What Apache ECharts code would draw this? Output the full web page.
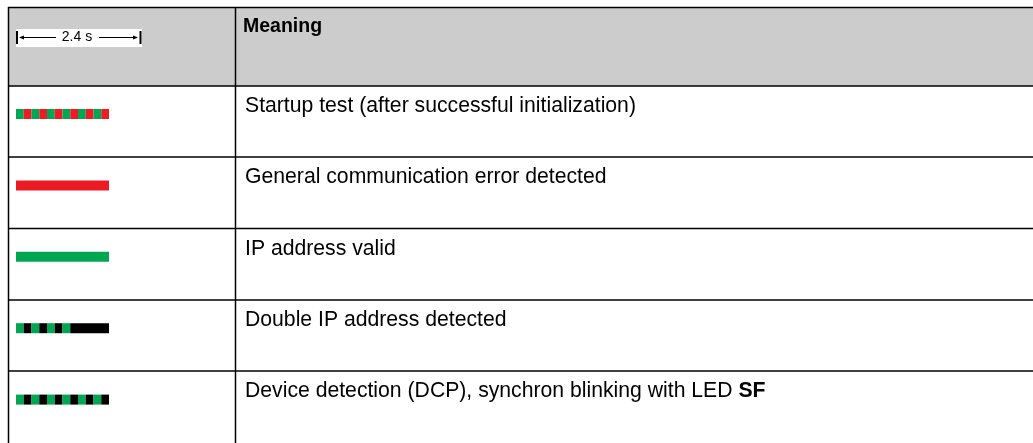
<!DOCTYPE html>
<html>
<head>
<meta charset="utf-8">
<script src="https://cdn.jsdelivr.net/npm/echarts@6/dist/echarts.min.js"></script>
<style>
html,body{margin:0;padding:0;background:#fff;}
#chart{width:1033px;height:443px;}
</style>
</head>
<body>
<div id="chart"></div>
<script>
// ---- data ----
const meanings = [
  'Startup test (after successful initialization)',
  'General communication error detected',
  'IP address valid',
  'Double IP address detected',
  'Device detection (DCP), synchron blinking with LED '
];
const boldSuffix = ['', '', '', '', 'SF'];
const headerMeaning = 'Meaning';
const periodLabel = '2.4 s';
const periodSeconds = 2.4;
const stepSeconds = 0.2;
// LED state per 0.2 s step: G = green, R = red, K = off (black)
const startupPattern   = ['G','R','G','R','G','R','G','R','G','R','G','R'];
const commErrorPattern = ['R','R','R','R','R','R','R','R','R','R','R','R'];
const ipValidPattern   = ['G','G','G','G','G','G','G','G','G','G','G','G'];
const doubleIpPattern  = ['G','K','G','K','G','K','G','K','K','K','K','K'];
const dcpPattern       = ['G','K','G','K','G','K','G','K','G','K','G','K'];
const patterns = [startupPattern, commErrorPattern, ipValidPattern, doubleIpPattern, dcpPattern];
const ledColors = { G: '#00A651', R: '#ED1C24', K: '#000000' };

// ---- build segment data (merge consecutive equal states into runs) ----
const segData = [];
patterns.forEach((p, row) => {
  let start = 0;
  for (let i = 1; i <= p.length; i++) {
    if (i === p.length || p[i] !== p[start]) {
      segData.push([row, start * stepSeconds, i * stepSeconds, p[start]]);
      start = i;
    }
  }
});
const textData = meanings.map((m, i) => [i]);

const chart = echarts.init(document.getElementById('chart'));
const LINE = '#000';
const LW = 1.5;
const rowLines = [86, 157, 228.5, 300, 371];
const FONT = '"Liberation Sans", Arial, sans-serif';

const graphics = [
  { type: 'rect', silent: true, shape: { x: 8, y: 7, width: 1030, height: 79 }, style: { fill: '#CCCCCC' }, z: 0 },
  { type: 'text', style: { x: 243, y: 26.5, text: headerMeaning, font: 'bold 19.5px ' + FONT, fill: '#000', textVerticalAlign: 'middle' }, z: 5 },
  // scale indicator
  { type: 'rect', shape: { x: 16, y: 29, width: 126, height: 18 }, style: { fill: '#fff' }, z: 3 },
  { type: 'line', shape: { x1: 17, y1: 31, x2: 17, y2: 44 }, style: { stroke: '#000', lineWidth: 2 }, z: 4 },
  { type: 'line', shape: { x1: 140.5, y1: 31, x2: 140.5, y2: 44 }, style: { stroke: '#000', lineWidth: 2 }, z: 4 },
  { type: 'line', shape: { x1: 20, y1: 37.5, x2: 56, y2: 37.5 }, style: { stroke: '#000', lineWidth: 1 }, z: 4 },
  { type: 'line', shape: { x1: 99, y1: 37.5, x2: 137, y2: 37.5 }, style: { stroke: '#000', lineWidth: 1 }, z: 4 },
  { type: 'polygon', shape: { points: [[19, 37.5], [24, 35.5], [24, 39.5]] }, style: { fill: '#000' }, z: 4 },
  { type: 'polygon', shape: { points: [[138, 37.5], [133, 35.5], [133, 39.5]] }, style: { fill: '#000' }, z: 4 },
  { type: 'text', style: { x: 77, y: 37, text: periodLabel, font: '14px ' + FONT, fill: '#000', textAlign: 'center', textVerticalAlign: 'middle' }, z: 4 },
  // frame
  { type: 'line', shape: { x1: 8, y1: 7.5, x2: 1033, y2: 7.5 }, style: { stroke: LINE, lineWidth: LW }, z: 6 },
  { type: 'line', shape: { x1: 8.5, y1: 7, x2: 8.5, y2: 443 }, style: { stroke: LINE, lineWidth: LW }, z: 6 },
  { type: 'line', shape: { x1: 235.5, y1: 7, x2: 235.5, y2: 443 }, style: { stroke: LINE, lineWidth: LW }, z: 6 }
];
rowLines.forEach(y => {
  graphics.push({ type: 'line', shape: { x1: 8, y1: y, x2: 1033, y2: y }, style: { stroke: LINE, lineWidth: LW }, z: 6 });
});

chart.setOption({
  animation: false,
  grid: { left: 16, right: 1033 - 109, top: 86, bottom: 0, containLabel: false },
  xAxis: { type: 'value', min: 0, max: periodSeconds, show: false },
  yAxis: { type: 'category', data: meanings, inverse: true, show: false },
  graphic: graphics,
  series: [
    {
      type: 'custom',
      clip: false,
      data: segData,
      renderItem: function (params, api) {
        const row = api.value(0);
        const p0 = api.coord([api.value(1), row]);
        const p1 = api.coord([api.value(2), row]);
        const band = api.size([0, 1])[1];
        const top = p0[1] - band / 2 + 23;
        const key = segData[params.dataIndex][3];
        return {
          type: 'rect',
          shape: { x: p0[0], y: top, width: p1[0] - p0[0], height: 10 },
          style: { fill: ledColors[key] }
        };
      }
    },
    {
      type: 'custom',
      clip: false,
      data: textData,
      renderItem: function (params, api) {
        const row = api.value(0);
        const p = api.coord([0, row]);
        const band = api.size([0, 1])[1];
        const y = p[1] - band / 2 + 20;
        const i = params.dataIndex;
        const txt = '{n|' + meanings[i] + '}' + (boldSuffix[i] ? '{b|' + boldSuffix[i] + '}' : '');
        return {
          type: 'text',
          x: 245, y: y,
          style: {
            text: txt,
            textVerticalAlign: 'middle',
            rich: {
              n: { font: '21.2px ' + FONT, fill: '#000' },
              b: { font: 'bold 21.2px ' + FONT, fill: '#000' }
            }
          }
        };
      }
    }
  ]
});
</script>
</body>
</html>
